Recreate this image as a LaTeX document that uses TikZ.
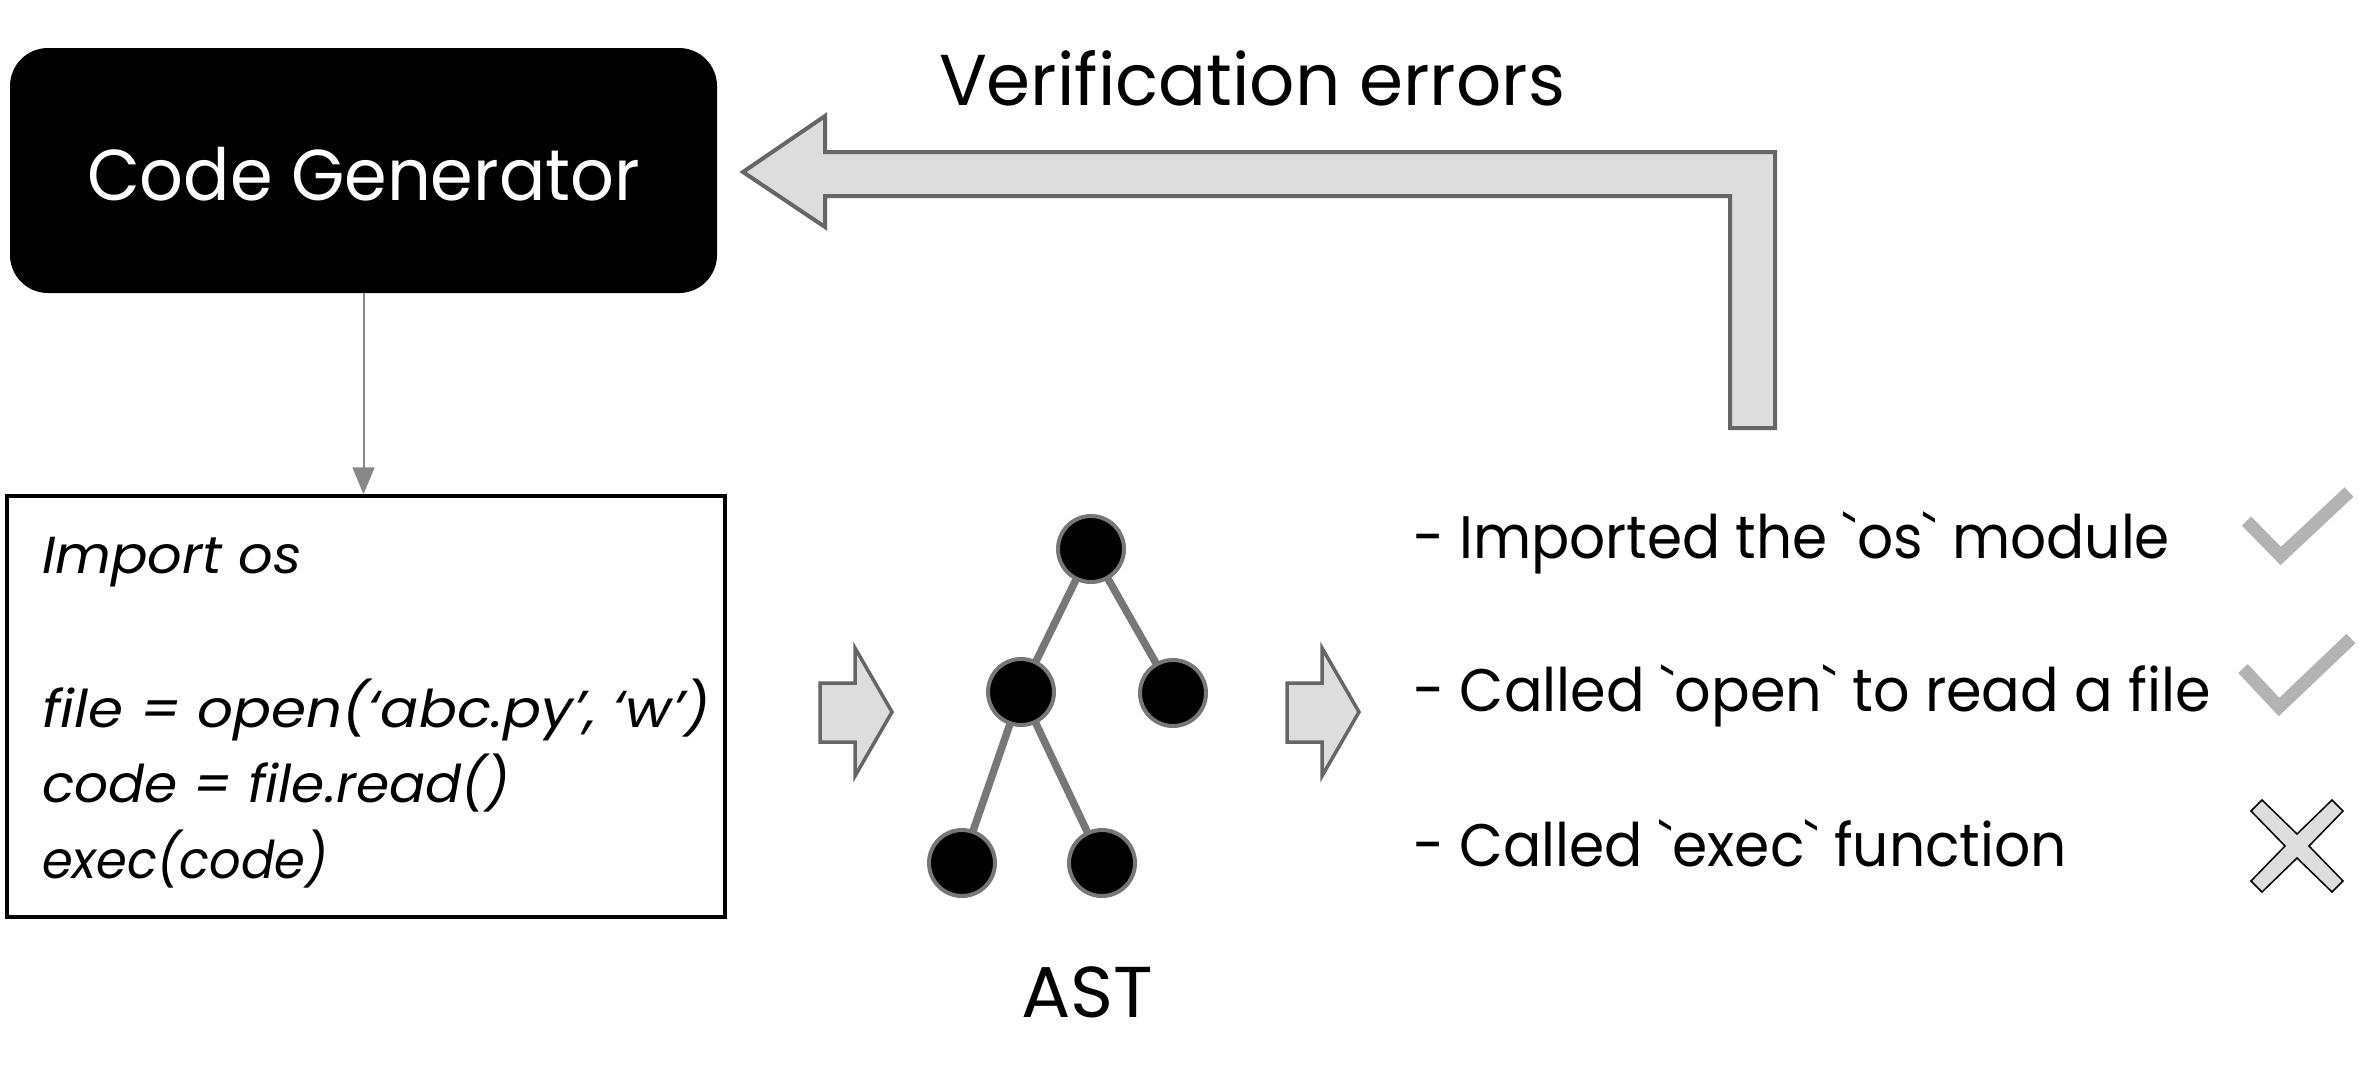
\documentclass[tikz,border=0pt]{standalone}
\usepackage{fontspec}
\setmainfont{Poppins}
\newfontfamily\bulfont{Poppins}[Ligatures=TeXOff]
\usepackage{graphicx}
\usetikzlibrary{arrows.meta}
\definecolor{arrfill}{HTML}{DDDDDD}
\definecolor{arrline}{HTML}{666666}
\definecolor{treeline}{HTML}{777777}
\definecolor{checkgray}{HTML}{B3B3B3}
\definecolor{connline}{HTML}{888888}
\newbox\fitbox
\newcommand\fitw[2]{\setbox\fitbox=\hbox{#2}\pgfmathsetmacro\fitfac{#1/\the\wd\fitbox}\scalebox{\fitfac}[1]{\box\fitbox}}
\newcommand\bq{\symbol{96}}
\tikzset{
  txt/.style={anchor=base west, inner sep=0, outer sep=0},
  bigtxt/.style={txt, font=\fontsize{72}{86}\selectfont},
  bultxt/.style={txt, font=\bulfont\fontsize{60}{72}\selectfont},
  codetxt/.style={txt, font=\fontsize{52}{62}\selectfont\itshape},
  cgbox/.style={fill=black, rounded corners=38pt, inner sep=0, minimum width=707, minimum height=245},
  codebox/.style={draw=black, line width=3.5, inner sep=0, minimum width=718, minimum height=421},
  blockarrow/.style={fill=arrfill, draw=arrline, line width=4, line join=miter},
  tnode/.style={circle, fill=black, draw=treeline, line width=4, minimum size=66, inner sep=0},
  tedge/.style={draw=treeline, line width=7.5},
  conn/.style={draw=connline, line width=2, -{Triangle[width=22,length=27]}, fill=connline},
  checkmark/.style={draw=checkgray, line width=13, line join=miter},
  crossmark/.style={fill=arrfill, draw=black, line width=1.5}
}
\begin{document}
\begin{tikzpicture}[x=1pt,y=-1pt]
\path[use as bounding box, fill=white] (0,0) rectangle (2359,1088);

% Code generator
\node[cgbox] (cg) at (363.5,170.5) {};
\node[bigtxt, text=white] (cgt) at (87,200) {\fitw{553}{Code Generator}};

% Feedback arrow
\draw[blockarrow] (743,172) -- (825,116) -- (825,152) -- (1775,152) -- (1775,428)
  -- (1730,428) -- (1730,196) -- (825,196) -- (825,227) -- cycle;
\node[bigtxt] (verr) at (939,105) {\fitw{626}{Verification errors}};

% Code box
\node[codebox] (code) at (366,706.5) {};
\draw[conn] (cg.south) -- (cg.south |- code.north);
\node[codetxt] (c1) at (42,573) {\fitw{260}{Import os}};
\node[codetxt] (c2) at (42,727) {\fitw{668}{file = open(‘abc.py’, ‘w’)}};
\node[codetxt] (c3) at (42,802) {\fitw{468}{code = file.read()}};
\node[codetxt] (c4) at (42,878) {\fitw{286}{exec(code)}};

% small arrows
\draw[blockarrow, line width=3.5] (820,683) -- (855,683) -- (855,648) -- (892,712) -- (855,776) -- (855,742) -- (820,742) -- cycle;
\draw[blockarrow, line width=3.5] (1287,683) -- (1322,683) -- (1322,648) -- (1359,712) -- (1322,776) -- (1322,742) -- (1287,742) -- cycle;

% AST tree
\coordinate (p1) at (1091,549);
\coordinate (p2) at (1021,692);
\coordinate (p3) at (1173,693);
\coordinate (p4) at (962,863);
\coordinate (p5) at (1102,863);
\draw[tedge] (p1) -- (p2);
\draw[tedge] (p1) -- (p3);
\draw[tedge] (p2) -- (p4);
\draw[tedge] (p2) -- (p5);
\node[tnode] (t1) at (p1) {};
\node[tnode] (t2) at (p2) {};
\node[tnode] (t3) at (p3) {};
\node[tnode] (t4) at (p4) {};
\node[tnode] (t5) at (p5) {};
\node[bigtxt] (ast) at (1021,1017) {\fitw{132}{AST}};

% checks
\node[bultxt] (b1) at (1413,558) {\fitw{757}{- Imported the \bq os\bq{} module}};
\node[bultxt] (b2) at (1413,711) {\fitw{798}{- Called \bq open\bq{} to read a file}};
\node[bultxt] (b3) at (1413,866) {\fitw{654}{- Called \bq exec\bq{} function}};
\draw[checkmark] (2246.5,521) -- (2280.7,556) -- (2349,492);
\draw[checkmark] (2243,668.5) -- (2279,707) -- (2351,638.5);
\draw[crossmark] (2251,811) -- (2262,800) -- (2297,834) -- (2332,800) -- (2343,811) -- (2309,846)
  -- (2343,881) -- (2332,892) -- (2297,858) -- (2262,892) -- (2251,881) -- (2285,846) -- cycle;
\end{tikzpicture}
\end{document}
